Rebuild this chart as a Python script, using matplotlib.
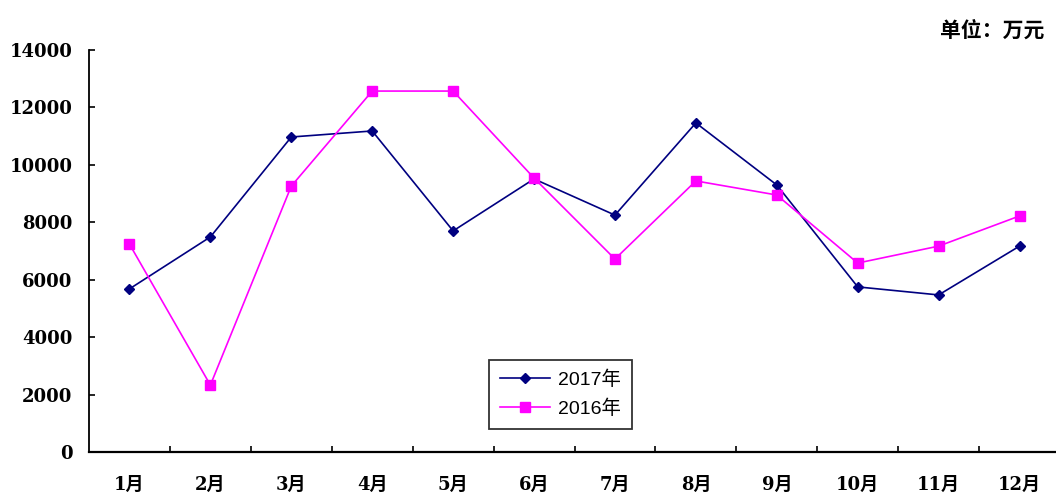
import matplotlib
matplotlib.use("Agg")
import matplotlib.pyplot as plt

months = ["1月", "2月", "3月", "4月", "5月", "6月", "7月", "8月", "9月", "10月", "11月", "12月"]
sales_2017 = [5680, 7490, 10970, 11180, 7700, 9510, 8250, 11460, 9300, 5750, 5470, 7170]
sales_2016 = [7240, 2330, 9260, 12570, 12570, 9540, 6720, 9440, 8950, 6580, 7170, 8220]
yticks = [0, 2000, 4000, 6000, 8000, 10000, 12000, 14000]

W, H = 1056, 493
fig = plt.figure(figsize=(W / 100, H / 100), dpi=100)
ax = fig.add_axes([89 / W, (H - 452) / H, (1060 - 89) / W, 402 / H])

x = list(range(len(months)))
ax.plot(x, sales_2017, color="#000080", marker="D", markersize=5.5, lw=1.2, label="2017年")
ax.plot(x, sales_2016, color="#FF00FF", marker="s", markersize=6.5, lw=1.2, label="2016年")

ax.set_xlim(-0.5, 11.5)
ax.set_ylim(0, 14000)
ax.set_yticks(yticks)
ax.set_yticklabels([str(v) for v in yticks], family="DejaVu Serif", fontweight="bold", fontsize=13)
ax.set_xticks([i + 0.5 for i in x[:-1]])
ax.set_xticklabels([])
ax.tick_params(axis="x", direction="in", length=4, width=1.2)
ax.tick_params(axis="y", direction="in", length=4, width=1.2, pad=12)
for i, m in enumerate(months):
    ax.text(i, -1130, m, ha="center", va="center", fontsize=13, fontweight="bold",
            family=["DejaVu Serif", "Noto Sans CJK SC"])

for s in ["top", "right"]:
    ax.spines[s].set_visible(False)
ax.spines["left"].set_linewidth(1.3)
ax.spines["bottom"].set_linewidth(1.6)

leg = ax.legend(loc="upper left", bbox_to_anchor=((489 - 89) / 971, (452 - 360) / 402),
                borderaxespad=0, frameon=True, fancybox=False, edgecolor="black",
                prop={"family": ["Liberation Sans", "Noto Sans CJK SC"], "size": 14},
                handlelength=2.6, borderpad=0.55, labelspacing=0.55, handletextpad=0.4)
leg.get_frame().set_linewidth(1.3)

fig.text(1044 / W, 1 - 30 / H, "单位：万元", ha="right", va="center", fontsize=15,
         fontweight="bold", family="Noto Sans CJK SC")

fig.savefig("out.png", dpi=100)
